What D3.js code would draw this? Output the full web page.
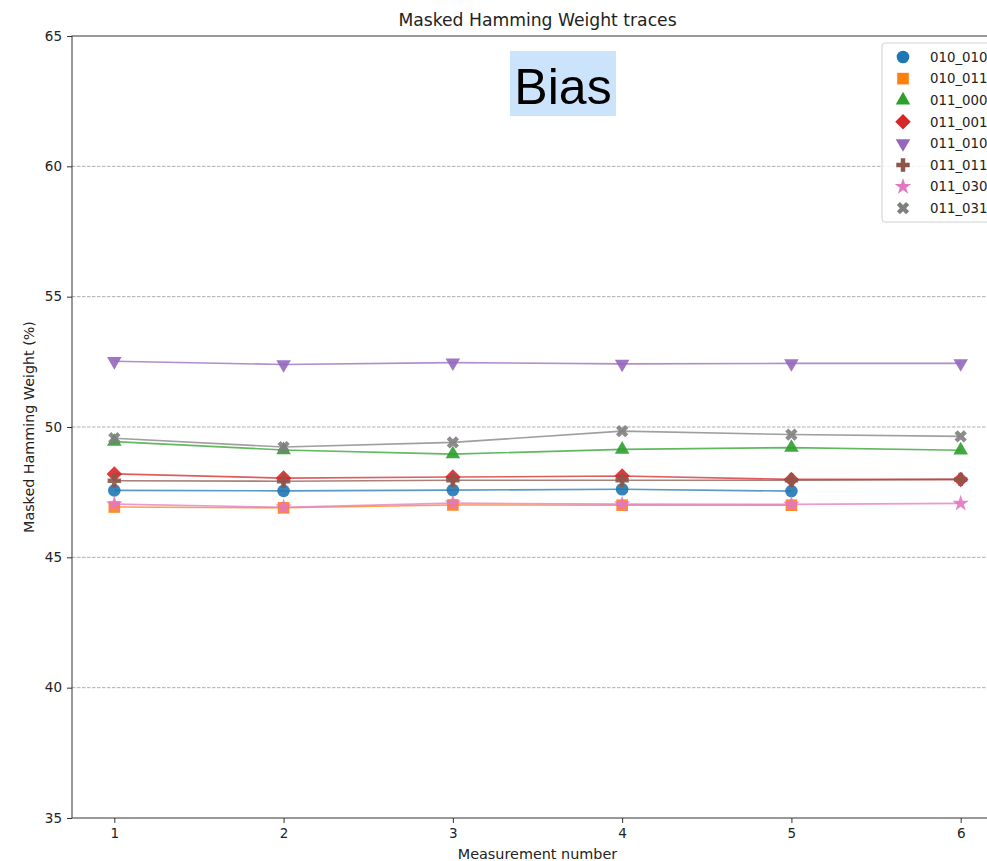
<!DOCTYPE html>
<html>
<head>
<meta charset="utf-8">
<title>Masked Hamming Weight traces</title>
<script src="https://cdnjs.cloudflare.com/ajax/libs/d3/7.8.5/d3.min.js"></script>
<style>
  html, body { margin: 0; padding: 0; background: #fff; }
  #diagram { width: 987px; height: 861px; overflow: hidden; }
  text { font-family: "DejaVu Sans", sans-serif; }
</style>
</head>
<body>
<div id="diagram"></div>
<script>
// data
const measurements = [1, 2, 3, 4, 5, 6];
const seriesNames = ['010_010', '010_011', '011_000', '011_001', '011_010', '011_011', '011_030', '011_031'];
const s010_010 = [47.57, 47.55, 47.58, 47.61, 47.54, null];
const s010_011 = [46.93, 46.90, 47.01, 47.00, 47.00, null];
const s011_000 = [49.44, 49.12, 48.96, 49.14, 49.21, 49.11];
const s011_001 = [48.20, 48.04, 48.08, 48.12, 47.99, 47.99];
const s011_010 = [52.52, 52.40, 52.47, 52.42, 52.44, 52.44];
const s011_011 = [47.94, 47.92, 47.96, 47.96, 47.96, 47.99];
const s011_030 = [47.04, 46.92, 47.08, 47.04, 47.03, 47.07];
const s011_031 = [49.57, 49.23, 49.41, 49.84, 49.71, 49.64];
const yTicks = [35, 40, 45, 50, 55, 60, 65];
const gridTicks = [40, 45, 50, 55, 60];

!(function () {
  'use strict';
  // - - - - - - - - - -
  // declaration
  let
    canvas = undefined,
    svg = undefined,
    xScale = undefined,
    yScale = undefined,
    series = undefined,
    colors = undefined,
    shapes = undefined,

    setCanvas = undefined,
    setScales = undefined,
    setGrid = undefined,
    setAxes = undefined,
    setSeries = undefined,
    setLegend = undefined,
    setLabels = undefined,
    marker = undefined;

  // head section
  canvas = {
    width: 987,
    height: 861,
    padding: { top: 36, right: -16, bottom: 43, left: 72 }
  };

  series = [s010_010, s010_011, s011_000, s011_001, s011_010, s011_011, s011_030, s011_031];
  colors = ['#1f77b4', '#ff7f0e', '#2ca02c', '#d62728', '#9467bd', '#8c564b', '#e377c2', '#7f7f7f'];
  // symbol, area, rotation
  shapes = [
    [d3.symbolCircle, 125, 0],
    [d3.symbolSquare, 135, 0],
    [d3.symbolTriangle, 92, 0],
    [d3.symbolSquare, 120, 45],
    [d3.symbolTriangle, 92, 180],
    [d3.symbolCross, 100, 0],
    [d3.symbolStar, 85, 0],
    [d3.symbolCross, 95, 45]
  ];

  // methods
  setCanvas = function (contextSelector) {
    svg = d3.select(contextSelector)
      .append('svg')
      .attr('width', canvas.width)
      .attr('height', canvas.height)
      .attr('viewBox', '0 0 ' + canvas.width + ' ' + canvas.height);
  };

  setScales = function () {
    xScale = d3.scaleLinear()
      .domain([0.75, 6.25])
      .range([canvas.padding.left, canvas.width - canvas.padding.right]);
    yScale = d3.scaleLinear()
      .domain([35, 65])
      .range([canvas.height - canvas.padding.bottom, canvas.padding.top]);
  };

  setGrid = function () {
    svg.append('g')
      .selectAll('line')
      .data(gridTicks)
      .join('line')
      .attr('x1', xScale(0.75))
      .attr('x2', xScale(6.25))
      .attr('y1', d => yScale(d))
      .attr('y2', d => yScale(d))
      .attr('stroke', '#999')
      .attr('stroke-width', 0.8)
      .attr('stroke-dasharray', '3.5,1.5');
  };

  setAxes = function () {
    let
      ty = canvas.height - canvas.padding.bottom,
      gx = undefined,
      gy = undefined;

    gx = svg.append('g')
      .attr('transform', 'translate(0, ' + ty + ')')
      .call(d3.axisBottom(xScale).tickValues(measurements).tickFormat(d3.format('d')).tickSize(5).tickPadding(5));

    gy = svg.append('g')
      .attr('transform', 'translate(' + canvas.padding.left + ', 0)')
      .call(d3.axisLeft(yScale).tickValues(yTicks).tickSize(5).tickPadding(5));

    [gx, gy].forEach(function (g) {
      g.select('.domain').remove();
      g.selectAll('.tick line').attr('stroke', '#333');
      g.selectAll('.tick text')
        .attr('fill', '#222')
        .style('font-size', '13.5px')
        .style('font-family', '"DejaVu Sans", sans-serif');
    });

    // spines
    svg.append('rect')
      .attr('x', xScale(0.75))
      .attr('y', yScale(65))
      .attr('width', xScale(6.25) - xScale(0.75))
      .attr('height', yScale(35) - yScale(65))
      .attr('fill', 'none')
      .attr('stroke', '#333')
      .attr('stroke-width', 1);
  };

  marker = function (i) {
    return d3.symbol().type(shapes[i][0]).size(shapes[i][1])();
  };

  setSeries = function () {
    let line = d3.line()
      .x(d => xScale(d[0]))
      .y(d => yScale(d[1]));

    series.forEach(function (values, i) {
      let pts = measurements.map((m, j) => [m, values[j]]).filter(p => p[1] !== null);
      let g = svg.append('g');

      g.append('path')
        .attr('d', line(pts))
        .attr('fill', 'none')
        .attr('stroke', colors[i])
        .attr('stroke-width', 1.6)
        .attr('stroke-opacity', 0.75);

      g.selectAll('path.mk')
        .data(pts)
        .join('path')
        .attr('class', 'mk')
        .attr('d', marker(i))
        .attr('transform', d => 'translate(' + xScale(d[0]) + ',' + yScale(d[1]) + ') rotate(' + shapes[i][2] + ')')
        .attr('fill', colors[i])
        .attr('fill-opacity', 0.9);
    });
  };

  setLegend = function () {
    let
      x0 = 882,
      y0 = 43,
      g = svg.append('g');

    g.append('rect')
      .attr('x', x0)
      .attr('y', y0)
      .attr('width', 114)
      .attr('height', 179)
      .attr('rx', 3)
      .attr('fill', '#fff')
      .attr('fill-opacity', 0.85)
      .attr('stroke', '#d0d0d0');

    seriesNames.forEach(function (name, i) {
      let cy = y0 + 14 + i * 21.6;
      g.append('path')
        .attr('d', marker(i))
        .attr('transform', 'translate(' + (x0 + 21) + ',' + cy + ') rotate(' + shapes[i][2] + ')')
        .attr('fill', colors[i]);
      g.append('text')
        .attr('x', x0 + 48)
        .attr('y', cy)
        .attr('dy', '0.36em')
        .attr('fill', '#222')
        .style('font-size', '13.3px')
        .text(name);
    });
  };

  setLabels = function () {
    let cx = (xScale(0.75) + xScale(6.25)) / 2;

    svg.append('text')
      .attr('x', cx)
      .attr('y', 26)
      .attr('text-anchor', 'middle')
      .attr('fill', '#222')
      .style('font-size', '17.2px')
      .text('Masked Hamming Weight traces');

    svg.append('text')
      .attr('x', cx)
      .attr('y', 859)
      .attr('text-anchor', 'middle')
      .attr('fill', '#222')
      .style('font-size', '14.4px')
      .text('Measurement number');

    svg.append('text')
      .attr('transform', 'translate(34,' + yScale(50) + ') rotate(-90)')
      .attr('text-anchor', 'middle')
      .attr('fill', '#222')
      .style('font-size', '14.3px')
      .text('Masked Hamming Weight (%)');

    // highlighted annotation
    svg.append('rect')
      .attr('x', 510)
      .attr('y', 51)
      .attr('width', 106)
      .attr('height', 65)
      .attr('fill', '#cce4fb');
    svg.append('text')
      .attr('x', 563)
      .attr('y', 104)
      .attr('text-anchor', 'middle')
      .attr('fill', '#000')
      .style('font-family', '"Liberation Sans", Arial, sans-serif')
      .style('font-size', '50px')
      .text('Bias');
  };

  // control
  setCanvas('#diagram');
  setScales();
  setGrid();
  setAxes();
  setSeries();
  setLegend();
  setLabels();
  // - - - - - - - - - -
}());
</script>
</body>
</html>
